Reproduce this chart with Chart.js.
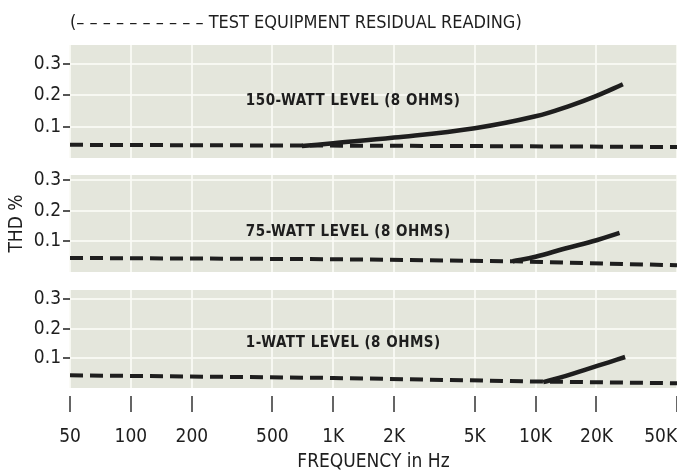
<!DOCTYPE html>
<html><head><meta charset="utf-8">
<script src="https://cdn.jsdelivr.net/npm/chart.js@4.4.1/dist/chart.umd.min.js"></script>
<style>
html,body{margin:0;padding:0;background:#fff;}
#wrap{position:relative;width:677px;height:473px;overflow:hidden;background:#fff;}
.c{position:absolute;left:0;width:677px;}
canvas{display:block;}
</style></head><body>
<div id="wrap">
<div class="c" style="top:0;height:158px"><canvas id="c1" width="677" height="158"></canvas></div>
<div class="c" style="top:163px;height:109px"><canvas id="c2" width="677" height="109"></canvas></div>
<div class="c" style="top:280px;height:193px"><canvas id="c3" width="677" height="193"></canvas></div>
</div>
<script>
// ---- data ----
const freqTicks = [50, 100, 200, 500, 1000, 2000, 5000, 10000, 20000, 50000];
const freqTickLabels = ['50', '100', '200', '500', '1K', '2K', '5K', '10K', '20K', '50K'];
const thdTicks = [0.1, 0.2, 0.3];
const thdTickLabels = ['0.1', '0.2', '0.3'];

const panelTitles = ['150-WATT LEVEL (8 OHMS)', '75-WATT LEVEL (8 OHMS)', '1-WATT LEVEL (8 OHMS)'];

// test equipment residual reading (dashed) per panel
const residual150Freq = [50, 500, 5000, 50000];
const residual150Thd = [0.042, 0.040, 0.038, 0.035];
const residual75Freq = [50, 1000, 8000, 50000];
const residual75Thd = [0.046, 0.042, 0.035, 0.022];
const residual1Freq = [50, 1000, 10000, 50000];
const residual1Thd = [0.043, 0.034, 0.022, 0.016];

// measured THD curves
const thd150Freq = [700, 1000, 2000, 5000, 10000, 15000, 20000, 27000];
const thd150Val = [0.038, 0.047, 0.065, 0.095, 0.133, 0.168, 0.198, 0.235];
const thd75Freq = [7700, 10000, 14000, 20000, 26000];
const thd75Val = [0.035, 0.05, 0.077, 0.104, 0.128];
const thd1Freq = [10900, 14000, 18000, 23000, 27700];
const thd1Val = [0.02, 0.04, 0.064, 0.087, 0.105];

// panel label anchors (frequency of left edge, THD value of text centre)
const labelFreq = [370, 370, 370];
const labelThd = [0.18, 0.131, 0.153];

// ---- styling ----
const FONT = "'Liberation Sans Narrow','DejaVu Sans Condensed','Arial Narrow',sans-serif";
const INK = '#1e1e1e';
const PAPER = '#e4e6dc';
const PAPER_LINE = 'rgba(250,250,246,0.85)';

const paperBg = {
  id: 'paperBg',
  beforeDraw(chart) {
    const {ctx, chartArea: a} = chart;
    ctx.save();
    ctx.fillStyle = PAPER;
    ctx.fillRect(a.left, a.top, a.right - a.left, a.bottom - a.top);
    ctx.restore();
  }
};
const panelLabel = {
  id: 'panelLabel',
  afterDatasetsDraw(chart, args, opts) {
    if (!opts || !opts.text) return;
    const {ctx} = chart;
    const x = chart.scales.x.getPixelForValue(opts.freq);
    const y = chart.scales.y.getPixelForValue(opts.thd);
    ctx.save();
    ctx.font = "bold 15px " + FONT;
    try { ctx.letterSpacing = '0.5px'; } catch (e) {}
    ctx.fillStyle = INK;
    ctx.textAlign = 'left';
    ctx.textBaseline = 'middle';
    ctx.fillText(opts.text, x, y);
    ctx.restore();
  }
};

function pts(fs, vs) { return fs.map((f, i) => ({x: f, y: vs[i]})); }

function yScale(max, title) {
  return {
    type: 'linear', min: 0, max: max, position: 'left',
    afterBuildTicks(s) { s.ticks = thdTicks.map(v => ({value: v})); },
    afterFit(s) { s.width = 70; s.paddingTop = 0; s.paddingBottom = 0; },
    ticks: {
      callback: (v) => thdTickLabels[thdTicks.indexOf(v)],
      color: INK, font: {family: FONT, size: 19}, padding: 2
    },
    grid: {color: PAPER_LINE, lineWidth: 2, drawTicks: true, tickLength: 7, tickColor: INK, tickWidth: 1.5},
    border: {display: false},
    title: title ? {display: true, text: title, color: INK, font: {family: FONT, size: 19}, padding: {top: 6, bottom: 0}} : {display: false}
  };
}

function xScale(o) {
  return {
    type: 'logarithmic', min: 50, max: 50000, position: o.position || 'bottom',
    afterBuildTicks(s) { s.ticks = freqTicks.map(v => ({value: v})); },
    afterFit(s) { s.height = o.height; s.paddingLeft = 0; s.paddingRight = 0; },
    ticks: {
      display: !!o.labels, autoSkip: false, maxRotation: 0, minRotation: 0,
      callback: (v) => {
        const i = freqTicks.indexOf(v);
        return i === freqTicks.length - 1 ? freqTickLabels[i] + '      ' : freqTickLabels[i];
      },
      color: INK, font: {family: FONT, size: 19}, padding: 14
    },
    grid: {
      color: PAPER_LINE, lineWidth: 2, drawTicks: !!o.labels, tickLength: 24,
      tickColor: '#333', tickWidth: 1.5, tickBorderDash: [0, 8, 16, 60]
    },
    border: {display: false},
    title: o.title ? {display: true, text: o.title, align: o.align || 'center', color: INK,
      font: {family: FONT, size: o.titleSize || 19}, padding: o.titlePad || {top: 0, bottom: 0}} : {display: false}
  };
}

function datasets(rf, rv, cf, cv) {
  return [
    {label: 'Test equipment residual reading', data: pts(rf, rv), borderColor: INK, borderWidth: 4,
      borderDash: [13, 7], pointRadius: 0, tension: 0, fill: false},
    {label: 'THD', data: pts(cf, cv), borderColor: INK, borderWidth: 4.5, pointRadius: 0,
      tension: 0.4, fill: false}
  ];
}

function make(id, ds, scales, labelIdx, padTop) {
  return new Chart(document.getElementById(id), {
    type: 'line',
    data: {datasets: ds},
    options: {
      responsive: false, animation: false, devicePixelRatio: 1,
      layout: {padding: {top: padTop || 0, left: 0, right: 0, bottom: 0}},
      plugins: {
        legend: {display: false}, tooltip: {enabled: false},
        panelLabel: {text: panelTitles[labelIdx], freq: labelFreq[labelIdx], thd: labelThd[labelIdx]}
      },
      scales: scales
    },
    plugins: [paperBg, panelLabel]
  });
}

make('c1', datasets(residual150Freq, residual150Thd, thd150Freq, thd150Val), {
  x: xScale({position: 'top', height: 45, title: '(\u2013 \u2013 \u2013 \u2013 \u2013 \u2013 \u2013 \u2013 \u2013 \u2013 TEST EQUIPMENT RESIDUAL READING)',
    align: 'start', titleSize: 18, titlePad: {top: 13, bottom: 0}}),
  y: yScale(0.36)
}, 0, 0);
make('c2', datasets(residual75Freq, residual75Thd, thd75Freq, thd75Val), {
  x: xScale({height: 0}),
  y: yScale(0.318, 'THD %')
}, 1, 12);
make('c3', datasets(residual1Freq, residual1Thd, thd1Freq, thd1Val), {
  x: xScale({height: 85, labels: true, title: 'FREQUENCY in Hz', titlePad: {top: 0, bottom: 0}}),
  y: yScale(0.332)
}, 2, 10);
</script>
</body></html>
